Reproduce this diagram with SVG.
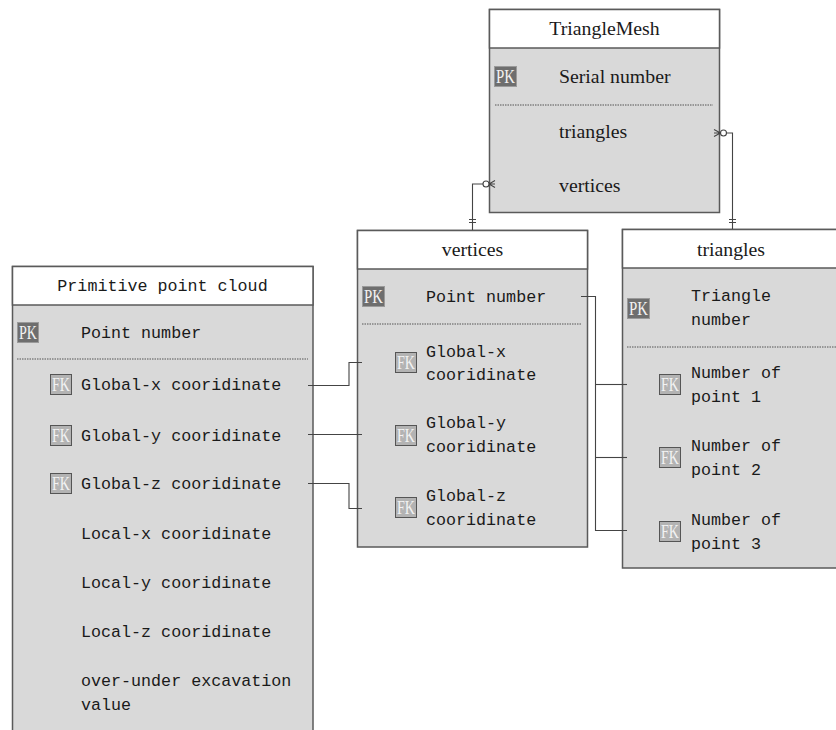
<svg xmlns="http://www.w3.org/2000/svg" width="836" height="730" viewBox="0 0 836 730">
<style>
.hdr{fill:#ffffff;stroke:#5a5a5a;stroke-width:1.5}
.body{fill:#d9d9d9;stroke:#5a5a5a;stroke-width:1.5}
.dot{stroke:#555;stroke-width:1;stroke-dasharray:1.5 1}
.serif{font-family:"Liberation Serif","Times New Roman",serif;font-size:19.8px;fill:#1a1a1a}
.mono{font-family:"Liberation Mono","Courier New",monospace;font-size:16.7px;fill:#1a1a1a}
.pk{fill:#6e6e6e;stroke:#9a9a9a;stroke-width:1}
.fk{fill:#b3b3b3;stroke:#555;stroke-width:1}
.key{font-family:"Liberation Serif","Times New Roman",serif;font-size:18px;fill:#f2f2f2;text-anchor:middle}
.conn{fill:none;stroke:#444;stroke-width:1.1}
.circ{fill:#ffffff;stroke:#444;stroke-width:1.1}
</style>

<g id="TriangleMesh">
  <rect class="body" x="489.5" y="9.5" width="230" height="203"/>
  <rect class="hdr" x="489.5" y="9.5" width="230" height="38.5"/>
  <text class="serif" x="604.5" y="35" text-anchor="middle">TriangleMesh</text>
  <rect class="pk" x="494.5" y="66.5" width="22" height="20"/>
  <text class="key" x="505.5" y="83" textLength="19" lengthAdjust="spacingAndGlyphs">PK</text>
  <text class="serif" x="559" y="83">Serial number</text>
  <line class="dot" x1="495" y1="105" x2="713" y2="105"/>
  <text class="serif" x="559" y="138">triangles</text>
  <text class="serif" x="559" y="191.5">vertices</text>
</g>

<g id="vertices">
  <rect class="body" x="357.5" y="230.5" width="230" height="316.5"/>
  <rect class="hdr" x="357.5" y="230.5" width="230" height="38.5"/>
  <text class="serif" x="472.5" y="256" text-anchor="middle">vertices</text>
  <rect class="pk" x="362.5" y="286.5" width="22" height="20"/>
  <text class="key" x="373.5" y="303" textLength="19" lengthAdjust="spacingAndGlyphs">PK</text>
  <text class="mono" x="426" y="302">Point number</text>
  <line class="dot" x1="362" y1="324" x2="581" y2="324"/>
  <rect class="fk" x="395.5" y="352.5" width="21" height="20"/>
  <text class="key" x="406" y="369" textLength="18" lengthAdjust="spacingAndGlyphs">FK</text>
  <text class="mono" x="426" y="357">Global-x</text>
  <text class="mono" x="426" y="380">cooridinate</text>
  <rect class="fk" x="395.5" y="425.5" width="21" height="20"/>
  <text class="key" x="406" y="442" textLength="18" lengthAdjust="spacingAndGlyphs">FK</text>
  <text class="mono" x="426" y="428">Global-y</text>
  <text class="mono" x="426" y="452">cooridinate</text>
  <rect class="fk" x="395.5" y="497.5" width="21" height="20"/>
  <text class="key" x="406" y="514" textLength="18" lengthAdjust="spacingAndGlyphs">FK</text>
  <text class="mono" x="426" y="501">Global-z</text>
  <text class="mono" x="426" y="525">cooridinate</text>
</g>

<g id="triangles">
  <rect class="body" x="622.5" y="229.5" width="230" height="338.5"/>
  <rect class="hdr" x="622.5" y="229.5" width="230" height="38.5"/>
  <text class="serif" x="731" y="255.5" text-anchor="middle">triangles</text>
  <rect class="pk" x="627.5" y="298.5" width="22" height="20"/>
  <text class="key" x="638.5" y="315" textLength="19" lengthAdjust="spacingAndGlyphs">PK</text>
  <text class="mono" x="691" y="301">Triangle</text>
  <text class="mono" x="691" y="325">number</text>
  <line class="dot" x1="627" y1="347" x2="836" y2="347"/>
  <rect class="fk" x="659.5" y="374.5" width="21" height="20"/>
  <text class="key" x="670" y="391" textLength="18" lengthAdjust="spacingAndGlyphs">FK</text>
  <text class="mono" x="691" y="378">Number of</text>
  <text class="mono" x="691" y="402">point 1</text>
  <rect class="fk" x="659.5" y="447.5" width="21" height="20"/>
  <text class="key" x="670" y="464" textLength="18" lengthAdjust="spacingAndGlyphs">FK</text>
  <text class="mono" x="691" y="451">Number of</text>
  <text class="mono" x="691" y="475">point 2</text>
  <rect class="fk" x="659.5" y="521.5" width="21" height="20"/>
  <text class="key" x="670" y="538" textLength="18" lengthAdjust="spacingAndGlyphs">FK</text>
  <text class="mono" x="691" y="525">Number of</text>
  <text class="mono" x="691" y="549">point 3</text>
</g>

<g id="PrimitivePointCloud">
  <rect class="body" x="12.5" y="266.5" width="300.5" height="480"/>
  <rect class="hdr" x="12.5" y="266.5" width="300.5" height="38.5"/>
  <text class="mono" x="162.5" y="291" text-anchor="middle">Primitive point cloud</text>
  <rect class="pk" x="17.5" y="322.5" width="21" height="20"/>
  <text class="key" x="28" y="339" textLength="18" lengthAdjust="spacingAndGlyphs">PK</text>
  <text class="mono" x="81" y="338">Point number</text>
  <line class="dot" x1="17" y1="359" x2="308" y2="359"/>
  <rect class="fk" x="50.5" y="374.5" width="21" height="20"/>
  <text class="key" x="61" y="391" textLength="18" lengthAdjust="spacingAndGlyphs">FK</text>
  <text class="mono" x="81" y="390">Global-x cooridinate</text>
  <rect class="fk" x="50.5" y="425.5" width="21" height="20"/>
  <text class="key" x="61" y="442" textLength="18" lengthAdjust="spacingAndGlyphs">FK</text>
  <text class="mono" x="81" y="441">Global-y cooridinate</text>
  <rect class="fk" x="50.5" y="473.5" width="21" height="20"/>
  <text class="key" x="61" y="490" textLength="18" lengthAdjust="spacingAndGlyphs">FK</text>
  <text class="mono" x="81" y="489">Global-z cooridinate</text>
  <text class="mono" x="81" y="539">Local-x cooridinate</text>
  <text class="mono" x="81" y="588">Local-y cooridinate</text>
  <text class="mono" x="81" y="637">Local-z cooridinate</text>
  <text class="mono" x="81" y="686">over-under excavation</text>
  <text class="mono" x="81" y="710">value</text>
</g>

<g id="connectors">
  <path class="conn" d="M714,133 L720.5,133 M714,129.5 L720.5,133 L714,136.5"/>
  <path class="conn" d="M726.5,133 L732.5,133 L732.5,229"/>
  <circle class="circ" cx="723.5" cy="133" r="3"/>
  <path class="conn" d="M729,219.5 L736,219.5 M729,222.5 L736,222.5"/>
  <path class="conn" d="M495,184 L489,184 M495,180.5 L489,184 L495,187.5"/>
  <path class="conn" d="M483,184 L472.5,184 L472.5,230"/>
  <circle class="circ" cx="486" cy="184" r="3"/>
  <path class="conn" d="M469,219.5 L476,219.5 M469,222.5 L476,222.5"/>
  <path class="conn" d="M308,385.5 L349,385.5 L349,362.5 L362,362.5"/>
  <path class="conn" d="M308,434.5 L362,434.5"/>
  <path class="conn" d="M308,483.5 L349,483.5 L349,508.5 L362,508.5"/>
  <path class="conn" d="M581,296.5 L595.5,296.5 L595.5,530.5 L627,530.5"/>
  <path class="conn" d="M595.5,384.5 L627,384.5"/>
  <path class="conn" d="M595.5,457.5 L627,457.5"/>
</g>
</svg>
